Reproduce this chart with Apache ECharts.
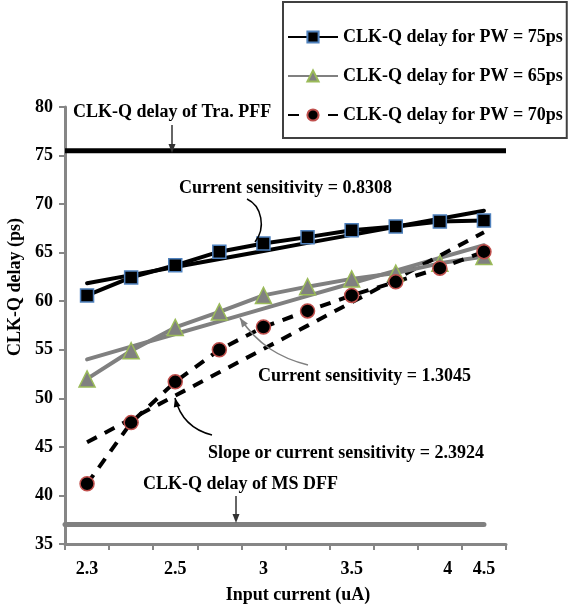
<!DOCTYPE html>
<html>
<head>
<meta charset="utf-8">
<script src="https://cdn.jsdelivr.net/npm/echarts@6/dist/echarts.min.js"></script>
<style>html,body{margin:0;padding:0;background:#fff}#c{width:569px;height:605px}</style>
</head>
<body>
<div id="c"></div>
<script>
// ---- data ----
var categories = ['2.3', '2.4', '2.5', '2.7', '3', '3.2', '3.5', '3.7', '4', '4.5'];
var tickLabels = ['2.3', '', '2.5', '', '3', '', '3.5', '', '4', '4.5'];
var pw75 = [60.6, 62.45, 63.7, 65.1, 65.95, 66.6, 67.3, 67.7, 68.2, 68.3];
var pw65 = [52.0, 54.9, 57.3, 58.9, 60.6, 61.5, 62.3, 62.9, 63.9, 64.6];
var pw70 = [41.2, 47.5, 51.7, 55.0, 57.35, 59.0, 60.6, 62.0, 63.4, 65.1];
var traPFF = 75.5;
var msDFF = 37;
var seriesNames = ['CLK-Q delay for PW = 75ps', 'CLK-Q delay for PW = 65ps', 'CLK-Q delay for PW = 70ps'];

// least-squares linear trendline (as Excel does)
function trend(arr) {
  var n = arr.length, mx = (n - 1) / 2, my = 0, i;
  for (i = 0; i < n; i++) my += arr[i];
  my /= n;
  var num = 0, den = 0;
  for (i = 0; i < n; i++) { num += (i - mx) * (arr[i] - my); den += (i - mx) * (i - mx); }
  var s = num / den, b = my - s * mx;
  return arr.map(function (_, k) { return +(b + s * k).toFixed(3); });
}

var FONT = '"Liberation Serif", "Times New Roman", serif';
var FS = 18;
var chart = echarts.init(document.getElementById('c'));

function bez(p0, c1, c2, p1, color, head) {
  var els = [{
    type: 'bezierCurve', silent: true,
    shape: { x1: p0[0], y1: p0[1], cpx1: c1[0], cpy1: c1[1], cpx2: c2[0], cpy2: c2[1], x2: p1[0], y2: p1[1] },
    style: { stroke: color, lineWidth: 1.5, fill: null }, z: 100
  }];
  if (head) els.push(arrowHead(c2, p1, color));
  return els;
}
function arrowHead(from, to, color) {
  var dx = to[0] - from[0], dy = to[1] - from[1], L = Math.sqrt(dx * dx + dy * dy);
  dx /= L; dy /= L;
  var len = 9, w = 3.5;
  var bx = to[0] - dx * len, by = to[1] - dy * len;
  return { type: 'polygon', silent: true, z: 100,
    shape: { points: [[to[0], to[1]], [bx - dy * w, by + dx * w], [bx + dy * w, by - dx * w]] },
    style: { fill: color } };
}
function txt(s, x, y, align, rot) {
  return { type: 'text', silent: true, z: 100, x: x, y: y, rotation: rot || 0,
    style: { text: s, font: 'bold ' + FS + 'px ' + FONT, fill: '#000', textAlign: align || 'left', textVerticalAlign: 'middle' } };
}

var graphics = [].concat(
  [txt('CLK-Q delay (ps)', 15, 287, 'center', Math.PI / 2)],
  [txt('Input current (uA)', 298, 595, 'center')],
  [txt('CLK-Q delay of Tra. PFF', 73, 112)],
  [{ type: 'line', silent: true, z: 100, shape: { x1: 172, y1: 125, x2: 172, y2: 146 }, style: { stroke: '#333', lineWidth: 1.5 } },
   arrowHead([172, 125], [172, 153], '#333')],
  [txt('Current sensitivity = 0.8308', 179, 188)],
  bez([247, 199], [262, 206], [266, 228], [255, 242], '#000', false),
  [txt('Current sensitivity = 1.3045', 258, 376)],
  bez([308, 365], [280, 358], [258, 345], [240, 318], '#808080', true),
  [txt('Slope or current sensitivity = 2.3924', 208, 453)],
  bez([212, 435], [192, 430], [180, 418], [175, 398], '#000', true),
  [txt('CLK-Q delay of MS DFF', 143, 484)],
  [{ type: 'line', silent: true, z: 100, shape: { x1: 236, y1: 496, x2: 236, y2: 516 }, style: { stroke: '#333', lineWidth: 1.5 } },
   arrowHead([236, 496], [236, 523], '#333')]
);

var labelFont = { fontFamily: FONT, fontWeight: 'bold', fontSize: FS, color: '#000' };

var option = {
  animation: false,
  backgroundColor: '#fff',
  textStyle: { fontFamily: FONT },
  grid: { left: 65, right: 63, top: 107, bottom: 61, containLabel: false, outerBoundsMode: 'none' },
  legend: {
    data: seriesNames,
    orient: 'vertical', left: 283, top: 2,
    padding: [26, 4, 14, 4],
    itemWidth: 50, itemHeight: 14, itemGap: 21,
    backgroundColor: '#fff', borderColor: '#404040', borderWidth: 2,
    textStyle: labelFont
  },
  xAxis: [{
    type: 'category', data: categories, boundaryGap: true,
    axisLine: { lineStyle: { color: '#868686', width: 3 } },
    axisTick: { show: true, interval: 0, length: 6, lineStyle: { color: '#868686', width: 2 } },
    axisLabel: { interval: 0, margin: 16, fontFamily: FONT, fontWeight: 'bold', fontSize: FS, color: '#000',
      formatter: function (v, i) { return i === 8 ? '{r|' + tickLabels[i] + '}' : tickLabels[i]; },
      rich: { r: { fontFamily: FONT, fontWeight: 'bold', fontSize: FS, color: '#000', padding: [0, 0, 0, 16] } } },
    splitLine: { show: false }
  }, {
    type: 'value', min: 0, max: 10, show: false
  }],
  yAxis: {
    type: 'value', min: 35, max: 80, interval: 5,
    axisLine: { show: true, lineStyle: { color: '#868686', width: 3 } },
    axisTick: { show: true, length: 6, lineStyle: { color: '#868686', width: 2 } },
    axisLabel: { margin: 12, fontFamily: FONT, fontWeight: 'bold', fontSize: FS, color: '#000' },
    splitLine: { show: false }
  },
  graphic: graphics,
  series: [
    { name: 'refPFF', type: 'line', xAxisIndex: 1, data: [[0, traPFF], [10, traPFF]], symbol: 'none',
      lineStyle: { color: '#000', width: 5 }, z: 1, silent: true },
    { name: 'refDFF', type: 'line', xAxisIndex: 1, data: [[0, msDFF], [9.5, msDFF]], symbol: 'none',
      lineStyle: { color: '#808080', width: 5, cap: 'round' }, z: 1, silent: true },
    { name: 'trend75', type: 'line', data: trend(pw75), symbol: 'none',
      lineStyle: { color: '#000', width: 4, cap: 'round' }, z: 3 },
    { name: 'trend65', type: 'line', data: trend(pw65), symbol: 'none',
      lineStyle: { color: '#808080', width: 4, cap: 'round' }, z: 3 },
    { name: 'trend70', type: 'line', data: trend(pw70), symbol: 'none',
      lineStyle: { color: '#000', width: 4, type: [11, 9] }, z: 3 },
    { name: seriesNames[0], type: 'line', data: pw75, symbol: 'rect', symbolSize: 13, showAllSymbol: true,
      lineStyle: { color: '#000', width: 4 }, itemStyle: { color: '#000', borderColor: '#4f81bd', borderWidth: 1.5 }, z: 5 },
    { name: seriesNames[1], type: 'line', data: pw65, symbol: 'triangle', symbolSize: 16, showAllSymbol: true,
      lineStyle: { color: '#808080', width: 4 }, itemStyle: { color: '#808080', borderColor: '#9bbb59', borderWidth: 1.5 }, z: 5 },
    { name: seriesNames[2], type: 'line', data: pw70, symbol: 'circle', symbolSize: 14, showAllSymbol: true,
      lineStyle: { color: '#000', width: 4, type: [11, 9] }, itemStyle: { color: '#000', borderColor: '#c0504d', borderWidth: 1.5 }, z: 5 }
  ]
};
chart.setOption(option);
</script>
</body>
</html>
